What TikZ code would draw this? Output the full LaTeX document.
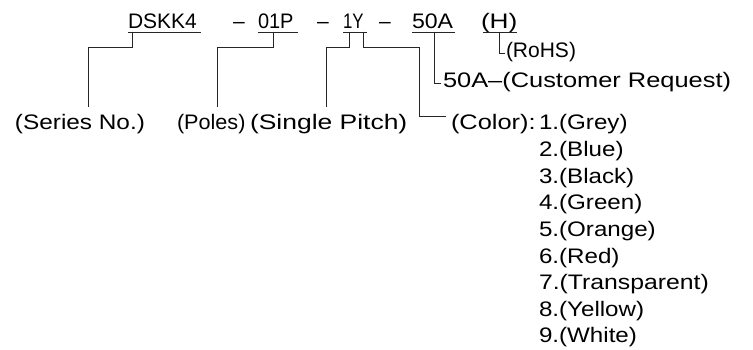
\documentclass[tikz,border=0pt]{standalone}
\usepackage{fontspec}
\setmainfont{Liberation Sans}
\usepackage{graphicx}
\begin{document}
\begin{tikzpicture}[x=1pt,y=-1pt,
  lbl/.style={anchor=base west,inner sep=0pt,outer sep=0pt,font=\fontsize{21}{25}\selectfont,text=black},
  wire/.style={line width=0.9pt,draw=black!85,line cap=rect},
  uline/.style={line width=0.9pt,draw=black!85}]
\useasboundingbox (0,0) rectangle (753,350);
% top code row
\node[lbl] (dskk) at (128,29) {DSKK4};
\node[lbl] (d1) at (233,29) {–};
\node[lbl] (pol) at (258,29) {\scalebox{0.95}[1]{01P}};
\node[lbl] (d2) at (317,29) {–};
\node[lbl] (pit) at (343,29) {\scalebox{0.8}[1]{1Y}};
\node[lbl] (d3) at (379,29) {–};
\node[lbl] (cus) at (412,29) {\scalebox{1.1}[1]{50A}};
\node[lbl] (rh) at (481,29) {\scalebox{1.25}[1]{(H)}};
% underlines
\draw[uline] (128,32) -- (201,32);
\draw[uline] (258,32) -- (298,32);
\draw[uline] (343,32) -- (367,32);
\draw[uline] (412,32) -- (455,32);
\draw[uline] (483,32) -- (517,32);
% labels
\node[lbl] (tser) at (15,130) {\scalebox{1.16}[1]{(Series No.)}};
\node[lbl] (tpol) at (177,130) {\scalebox{1.03}[1]{(Poles)}};
\node[lbl] (tpit) at (250,130) {\scalebox{1.26}[1]{(Single Pitch)}};
\node[lbl] (tcol) at (451,130) {\scalebox{1.21}[1]{(Color):}};
\node[lbl] (c1) at (539,130) {\scalebox{1.15}[1]{1.(Grey)}};
\node[lbl] (c2) at (539,156.6) {\scalebox{1.15}[1]{2.(Blue)}};
\node[lbl] (c3) at (539,183.2) {\scalebox{1.15}[1]{3.(Black)}};
\node[lbl] (c4) at (539,209.8) {\scalebox{1.15}[1]{4.(Green)}};
\node[lbl] (c5) at (539,236.4) {\scalebox{1.15}[1]{5.(Orange)}};
\node[lbl] (c6) at (539,263.0) {\scalebox{1.15}[1]{6.(Red)}};
\node[lbl] (c7) at (539,289.6) {\scalebox{1.18}[1]{7.(Transparent)}};
\node[lbl] (c8) at (539,316.2) {\scalebox{1.15}[1]{8.(Yellow)}};
\node[lbl] (c9) at (539,342.8) {\scalebox{1.15}[1]{9.(White)}};
\node[lbl] (tcus) at (443,88) {\scalebox{1.21}[1]{50A–(Customer Request)}};
\node[lbl] (trh) at (506,58) {(RoHS)};
% connector coordinates
\coordinate (a0) at (132,32); \coordinate (a1) at (88,107);
\coordinate (b0) at (273,32); \coordinate (b1) at (217,107);
\coordinate (e0) at (349,32); \coordinate (e1) at (326,107);
\coordinate (f0) at (363,32); \coordinate (f1) at (419,116);
\coordinate (g0) at (434,32); \coordinate (h0) at (499,32);
% connectors
\draw[wire] (a0) -- (a0 |- 0,47) -- (a1 |- 0,47) -- (a1);
\draw[wire] (b0) -- (b0 |- 0,47) -- (b1 |- 0,47) -- (b1);
\draw[wire] (e0) -- (e0 |- 0,47) -- (e1 |- 0,47) -- (e1);
\draw[wire] (f0) -- (f0 |- 0,47) -- (f1 |- 0,47) -- (f1) -- (446,116);
\draw[wire] (g0) -- (434,83) -- (441,83);
\draw[wire] (h0) -- (499,53) -- (505,53);
\end{tikzpicture}
\end{document}
